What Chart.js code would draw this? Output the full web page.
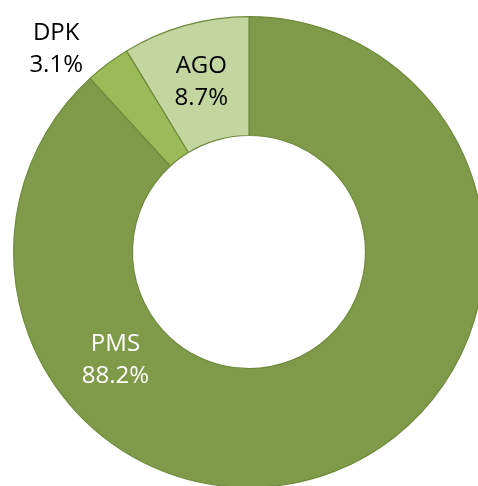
<!DOCTYPE html>
<html>
<head>
<meta charset="utf-8">
<script src="https://cdn.jsdelivr.net/npm/chart.js@4/dist/chart.umd.min.js"></script>
<style>
    html, body { margin: 0; padding: 0; background: #fff; overflow: hidden; }
    #wrap { width: 500px; height: 500px; position: absolute; left: 0; top: 0; }
</style>
</head>
<body>
<div id="wrap"><canvas id="fuelChart" width="500" height="500"></canvas></div>
<script>
// 燃料类别和占比
const categories = ['PMS', 'DPK', 'AGO'];
const shares = [88.2, 3.1, 8.7];
const fillColors = ['#7f9a48', '#9bbb59', '#c4d6a0'];
const labelColors = ['#ffffff', '#000000', '#000000'];

// 标签位置：相对圆心的角度(度，顺时针从正上方起) 和半径比例
const labelPlace = [
    { angle: 231, r: 0.73 },
    { angle: -43.5, r: 1.19 },
    { angle: null, r: 0.75 }
];

const sliceLabels = {
    id: 'sliceLabels',
    afterDatasetsDraw(chart) {
        const ctx = chart.ctx;
        const meta = chart.getDatasetMeta(0);
        ctx.save();
        ctx.font = '24px "Open Sans", sans-serif';
        ctx.textAlign = 'center';
        ctx.textBaseline = 'middle';
        meta.data.forEach((arc, i) => {
            const p = labelPlace[i];
            let a;
            if (p.angle === null) {
                a = (arc.startAngle + arc.endAngle) / 2;
            } else {
                a = p.angle * Math.PI / 180 - Math.PI / 2;
            }
            const x = arc.x + Math.cos(a) * arc.outerRadius * p.r;
            const y = arc.y + Math.sin(a) * arc.outerRadius * p.r;
            ctx.fillStyle = labelColors[i];
            ctx.fillText(categories[i], x, y - 16);
            ctx.fillText(shares[i].toFixed(1) + '%', x, y + 16);
        });
        ctx.restore();
    }
};

new Chart(document.getElementById('fuelChart'), {
    type: 'doughnut',
    data: {
        labels: categories,
        datasets: [{
            data: shares,
            backgroundColor: fillColors,
            borderColor: '#6f8a3c',
            borderWidth: 1.2
        }]
    },
    options: {
        responsive: false,
        animation: false,
        cutout: '49.5%',
        layout: { padding: { left: 13, top: 16, right: 15, bottom: 12 } },
        plugins: {
            legend: { display: false },
            tooltip: { enabled: false }
        }
    },
    plugins: [sliceLabels]
});
</script>
</body>
</html>
